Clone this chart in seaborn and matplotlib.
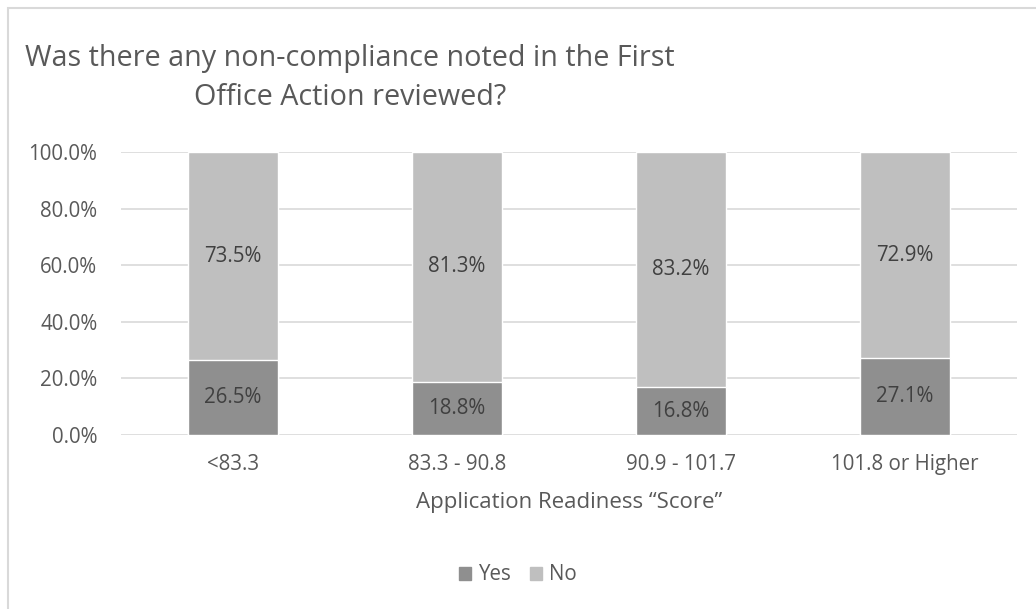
import matplotlib
matplotlib.use("Agg")
import matplotlib.pyplot as plt
import matplotlib.patches as mpatches
from matplotlib.ticker import PercentFormatter
import seaborn as sns
import pandas as pd

categories = ["<83.3", "83.3 - 90.8", "90.9 - 101.7", "101.8 or Higher"]
yes_pct = [26.5, 18.8, 16.8, 27.1]
no_pct = [73.5, 81.3, 83.2, 72.9]

yes_color = "#8f8f8f"
no_color = "#bfbfbf"
text_color = "#595959"
grid_color = "#d9d9d9"

sns.set_style("white")
plt.rcParams["font.family"] = ["Open Sans", "DejaVu Sans"]

df = pd.DataFrame({"cat": categories, "Yes": yes_pct, "No": no_pct})
df["total"] = df["Yes"] + df["No"]

fig = plt.figure(figsize=(10.36, 6.09), dpi=100)
ax = fig.add_axes([121 / 1036, 1 - 435 / 609, 896 / 1036, 283 / 609])

# stacked bars: full height in the "No" colour, then "Yes" on top from zero
sns.barplot(data=df, x="cat", y="total", color=no_color, width=0.4,
            saturation=1, ax=ax, zorder=2)
sns.barplot(data=df, x="cat", y="Yes", color=yes_color, width=0.4,
            saturation=1, ax=ax, zorder=3)

for i, (y, n) in enumerate(zip(yes_pct, no_pct)):
    ax.text(i, y / 2, f"{y:.1f}%", ha="center", va="center",
            fontsize=14.8, color="#404040", zorder=4)
    ax.text(i, y + n / 2, f"{n:.1f}%", ha="center", va="center",
            fontsize=14.8, color="#404040", zorder=4)

ax.set_ylim(0, 100)
ax.set_xlim(-0.5, 3.5)
ax.set_yticks([0, 20, 40, 60, 80, 100])
ax.yaxis.set_major_formatter(PercentFormatter(decimals=1))
ax.yaxis.grid(True, color=grid_color, linewidth=1.2, zorder=0)
ax.set_axisbelow(True)
for s in ax.spines.values():
    s.set_visible(False)
ax.tick_params(axis="both", length=0, labelsize=14.8, labelcolor=text_color)
ax.tick_params(axis="y", pad=17)
ax.tick_params(axis="x", pad=14)
ax.set_ylabel("")
ax.set_xlabel("Application Readiness \u201cScore\u201d", fontsize=16,
              color=text_color, labelpad=12)

fig.text(350 / 1036, 1 - 78 / 609,
         "Was there any non-compliance noted in the First\nOffice Action reviewed?",
         ha="center", va="center", fontsize=20.7, color=text_color,
         linespacing=1.46)

handles = [mpatches.Patch(color=yes_color, label="Yes"),
           mpatches.Patch(color=no_color, label="No")]
fig.legend(handles=handles, loc="center", bbox_to_anchor=(518 / 1036, 1 - 575 / 609),
           ncol=2, frameon=False, fontsize=14.8, labelcolor=text_color,
           handlelength=0.6, handleheight=0.6, handletextpad=0.35, columnspacing=0.9)

border = mpatches.Rectangle((7.5 / 1036, -0.1), 1.2, 1.1 - 7.5 / 609, transform=fig.transFigure,
                            fill=False, edgecolor="#d9d9d9", linewidth=1.5)
fig.patches.append(border)

fig.savefig("out.png", dpi=100, facecolor="white")
